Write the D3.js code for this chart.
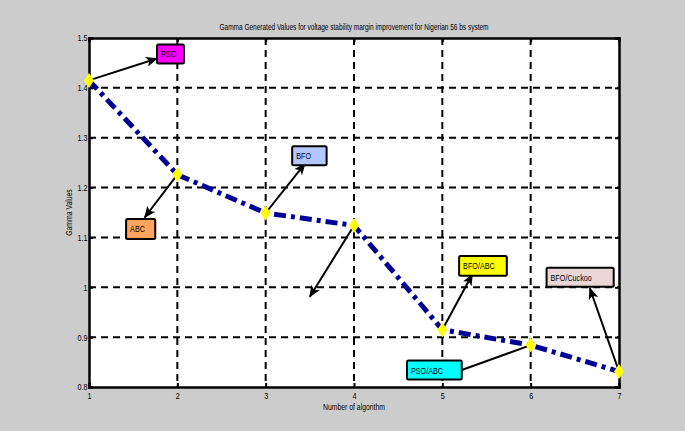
<!DOCTYPE html>
<html>
<head>
<meta charset="utf-8">
<script src="https://cdn.jsdelivr.net/npm/d3@7"></script>
<style>
  body { margin: 0; background: #cccccc; }
  text { font-family: "Liberation Sans", Arial, sans-serif; fill: #000; }
</style>
</head>
<body>
<div id="container"></div>
<script>
// data
const algorithms = [1, 2, 3, 4, 5, 6, 7];
const gammaValues = [1.415, 1.226, 1.149, 1.124, 0.915, 0.884, 0.831];
const xTicks = [1, 2, 3, 4, 5, 6, 7];
const yTicks = [0.8, 0.9, 1, 1.1, 1.2, 1.3, 1.4, 1.5];

// annotation labels, fills and the point each arrow starts from
const noteLabels = ["PSO", "ABC", "BFO", "", "BFO/ABC", "PSO/ABC", "BFO/Cuckoo"];
const noteColors = ["#ff00ff", "#ffa45c", "#b3c6ff", null, "#ffff00", "#00ffff", "#ead6d6"];
const notePoints = [0, 1, 2, 3, 4, 5, 6];

// where annotation boxes sit (data units): [x0, x1, yTop, yBottom], and arrow head
const noteBoxes = [
  [1.77, 2.075, 1.487, 1.449],
  [1.42, 1.75, 1.137, 1.097],
  [3.30, 3.69, 1.283, 1.245],
  null,
  [5.19, 5.73, 1.063, 1.023],
  [4.60, 5.22, 0.853, 0.815],
  [6.18, 6.94, 1.039, 1.001]
];
const noteHeads = [
  [1.77, 1.459], [1.63, 1.140], [3.445, 1.248], [3.50, 0.981],
  [5.34, 1.026], null, [6.67, 0.998]
];

window.onload = () => {
  const width = 685, height = 431;
  const margin = { left: 89, right: 66, top: 38, bottom: 44 };
  const squeeze = 0.76;   // the original uses a condensed face

  const svg = d3.select("#container").append("svg")
    .attr("width", width)
    .attr("height", height);

  svg.append("rect").attr("width", width).attr("height", height).attr("fill", "#cccccc");

  const x = d3.scaleLinear().domain([1, 7]).range([margin.left, width - margin.right]);
  const y = d3.scaleLinear().domain([0.8, 1.5]).range([height - margin.bottom, margin.top]);

  function narrowText(parent, tx, ty, str, size, anchor, rot) {
    const r = rot ? ` rotate(${rot})` : "";
    return parent.append("text")
      .attr("transform", `translate(${tx},${ty})${r} scale(${squeeze},1)`)
      .attr("text-anchor", anchor || "start")
      .attr("font-size", size)
      .text(str);
  }

  svg.append("defs").append("marker")
    .attr("id", "head")
    .attr("viewBox", "0 0 12 10")
    .attr("refX", 11).attr("refY", 5)
    .attr("markerWidth", 12).attr("markerHeight", 10)
    .attr("markerUnits", "userSpaceOnUse")
    .attr("orient", "auto")
    .append("path")
    .attr("d", "M0,0 L12,5 L0,10 L3,5 Z")
    .attr("fill", "#000");

  // plot background
  svg.append("rect")
    .attr("x", x(1)).attr("y", y(1.5))
    .attr("width", x(7) - x(1)).attr("height", y(0.8) - y(1.5))
    .attr("fill", "#fff");

  // grid
  const grid = svg.append("g")
    .attr("stroke", "#000").attr("stroke-width", 2).attr("stroke-dasharray", "7,5");
  grid.selectAll(".gx").data(xTicks.slice(1, -1)).enter().append("line")
    .attr("x1", d => x(d)).attr("x2", d => x(d))
    .attr("y1", y(1.5)).attr("y2", y(0.8));
  grid.selectAll(".gy").data(yTicks.slice(1, -1)).enter().append("line")
    .attr("y1", d => y(d)).attr("y2", d => y(d))
    .attr("x1", x(1)).attr("x2", x(7));

  // axes (MATLAB-style box with inner ticks)
  const axB = svg.append("g").attr("transform", `translate(0,${y(0.8)})`)
    .call(d3.axisBottom(x).tickValues(xTicks).tickSize(-4).tickPadding(6).tickFormat(d3.format("d")));
  const axT = svg.append("g").attr("transform", `translate(0,${y(1.5)})`)
    .call(d3.axisTop(x).tickValues(xTicks).tickSize(-4).tickFormat(""));
  const axL = svg.append("g").attr("transform", `translate(${x(1)},0)`)
    .call(d3.axisLeft(y).tickValues(yTicks).tickSize(-4).tickPadding(2).tickFormat(d => d3.format("")(+d.toFixed(1))));
  const axR = svg.append("g").attr("transform", `translate(${x(7)},0)`)
    .call(d3.axisRight(y).tickValues(yTicks).tickSize(-4).tickFormat(""));
  [axB, axT, axL, axR].forEach(g => {
    g.select(".domain").attr("stroke", "#000").attr("stroke-width", 2.5);
    g.selectAll(".tick line").attr("stroke", "#000").attr("stroke-width", 2);
    g.selectAll("text").attr("font-size", 9)
      .attr("font-family", "Liberation Sans, Arial, sans-serif")
      .attr("transform", "scale(0.8,1)");
  });

  // series line
  const line = d3.line().x((d, i) => x(algorithms[i])).y(d => y(d));
  svg.append("path")
    .datum(gammaValues)
    .attr("d", line)
    .attr("fill", "none")
    .attr("stroke", "#000096")
    .attr("stroke-width", 5)
    .attr("stroke-dasharray", "12,5,4,5");

  // annotation arrows
  const notes = svg.append("g");
  noteLabels.forEach((label, i) => {
    const px = x(algorithms[notePoints[i]]), py = y(gammaValues[notePoints[i]]);
    let ex, ey;
    if (noteHeads[i]) { ex = x(noteHeads[i][0]); ey = y(noteHeads[i][1]); }
    else { ex = x(noteBoxes[i][1]); ey = (y(noteBoxes[i][2]) + y(noteBoxes[i][3])) / 2; }
    const ln = notes.append("line")
      .attr("x1", px).attr("y1", py).attr("x2", ex).attr("y2", ey)
      .attr("stroke", "#000").attr("stroke-width", 2);
    if (noteHeads[i]) ln.attr("marker-end", "url(#head)");
  });

  // markers
  svg.selectAll(".pt").data(gammaValues).enter().append("path")
    .attr("transform", (d, i) => `translate(${x(algorithms[i])},${y(d)})`)
    .attr("d", "M0,-7.5 L5,0 L0,7.5 L-5,0 Z")
    .attr("fill", "#ffff00");

  // annotation boxes
  noteLabels.forEach((label, i) => {
    const b = noteBoxes[i];
    if (!b) return;
    const g = notes.append("g");
    g.append("rect")
      .attr("x", x(b[0])).attr("y", y(b[2]))
      .attr("width", x(b[1]) - x(b[0])).attr("height", y(b[3]) - y(b[2]))
      .attr("rx", 1.5)
      .attr("fill", noteColors[i]).attr("stroke", "#000").attr("stroke-width", 2);
    narrowText(g, x(b[0]) + 4, (y(b[2]) + y(b[3])) / 2 + 3.5, label, 9.5);
  });

  // labels
  svg.append("text")
    .attr("x", (x(1) + x(7)) / 2).attr("y", 30)
    .attr("text-anchor", "middle").attr("font-size", 9)
    .attr("textLength", 269).attr("lengthAdjust", "spacingAndGlyphs")
    .text("Gamma Generated Values for voltage stability margin improvement for Nigerian 56 bs system");
  narrowText(svg, (x(1) + x(7)) / 2, 410, "Number of algorithm", 9, "middle");
  narrowText(svg, 72, (y(0.8) + y(1.5)) / 2, "Gamma Values", 9, "middle", -90);
};
</script>
</body>
</html>
